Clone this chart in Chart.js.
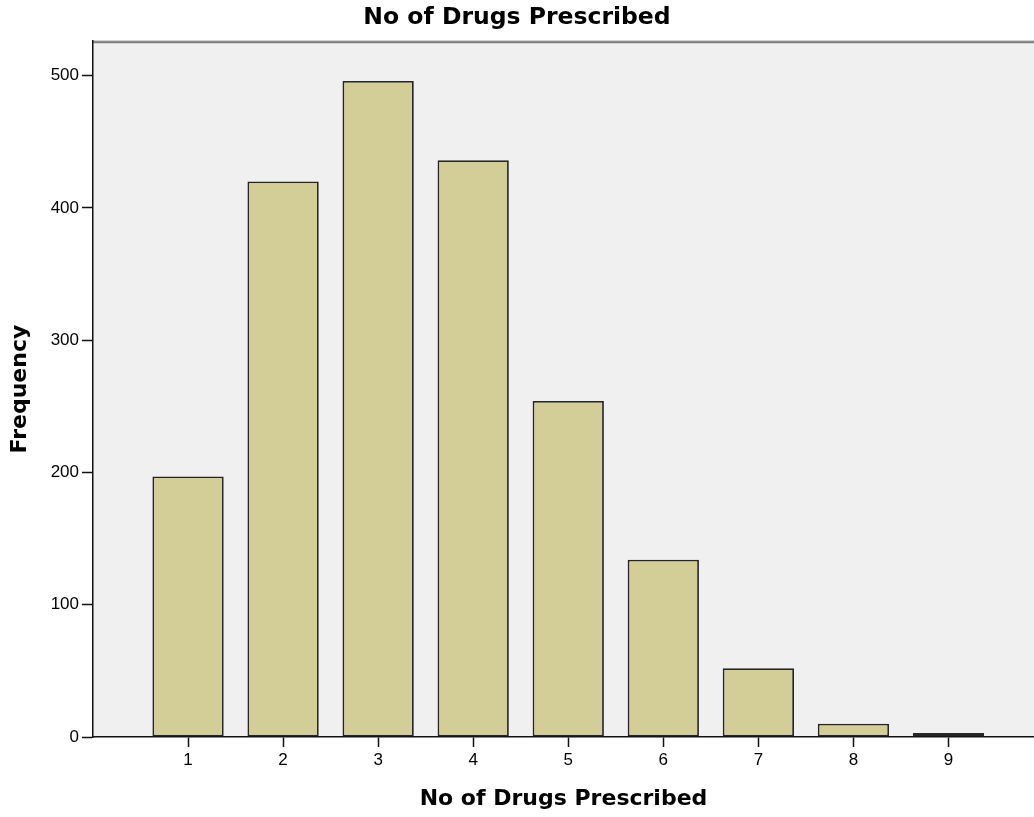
<!DOCTYPE html>
<html>
<head>
<meta charset="utf-8">
<title>No of Drugs Prescribed</title>
<script src="https://cdn.jsdelivr.net/npm/chart.js@4.4.1/dist/chart.umd.min.js"></script>
<style>
    html, body { margin: 0; padding: 0; background: #fff; overflow: hidden; }
    #wrap { width: 1034px; height: 817px; position: relative; }
</style>
</head>
<body>
<div id="wrap"><canvas id="drugs-chart"></canvas></div>
<script>
// ---- Data ---------------------------------------------------------------

const TITLE = 'No of Drugs Prescribed';
const X_TITLE = 'No of Drugs Prescribed';
const Y_TITLE = 'Frequency';

const drugCounts = [1, 2, 3, 4, 5, 6, 7, 8, 9];
const frequencies = [197, 420, 496, 436, 254, 134, 52, 10, 3];

const xTicks = [1, 2, 3, 4, 5, 6, 7, 8, 9];
const yTicks = [0, 100, 200, 300, 400, 500];

// ---- Styling ------------------------------------------------------------

const TITLE_FONT = 'DejaVu Sans';
const TICK_FONT = '"Liberation Sans", Arial, sans-serif';
const PLOT_BG = '#f0f0f0';
const BAR_FILL = '#d3ce97';
const BAR_EDGE = '#262626';

// Gray plot background and the double gray line along its top edge.
const plotFrame = {
    id: 'plotFrame',
    beforeDraw(chart) {
        const { ctx, chartArea: a } = chart;
        ctx.save();
        ctx.fillStyle = PLOT_BG;
        ctx.fillRect(a.left, a.top, a.right - a.left, a.bottom - a.top);
        ctx.fillStyle = '#c8c8c8';
        ctx.fillRect(a.left, a.top - 1, chart.width - a.left, 1);
        ctx.fillStyle = '#7a7a7a';
        ctx.fillRect(a.left, a.top, chart.width - a.left, 2);
        ctx.restore();
    },
};

// ---- Chart --------------------------------------------------------------

const ctx = document.getElementById('drugs-chart').getContext('2d');

new Chart(ctx, {
    type: 'bar',
    data: {
        datasets: [{
            label: Y_TITLE,
            data: frequencies.map((f, i) => ({ x: drugCounts[i], y: f })),
            backgroundColor: BAR_FILL,
            borderColor: BAR_EDGE,
            borderWidth: 1.8,
            borderSkipped: false,
            categoryPercentage: 1,
            barPercentage: 0.75,
        }],
    },
    options: {
        responsive: true,
        maintainAspectRatio: false,
        animation: false,
        layout: { padding: 0 },
        plugins: {
            legend: { display: false },
            tooltip: { enabled: false },
            title: {
                display: true,
                text: TITLE,
                color: '#000',
                font: { family: TITLE_FONT, size: 23.5, weight: 'bold', lineHeight: 1.2 },
                padding: { top: 4, bottom: 9 },
            },
        },
        scales: {
            x: {
                type: 'linear',
                min: 0,
                max: 9.9,
                offset: false,
                afterBuildTicks: (s) => { s.ticks = xTicks.map(v => ({ value: v })); },
                afterFit: (s) => { s.height = 80; },
                ticks: {
                    color: '#000',
                    font: { family: TICK_FONT, size: 17 },
                    padding: 3,
                    maxRotation: 0,
                },
                grid: {
                    offset: false,
                    drawOnChartArea: false,
                    tickLength: 10,
                    tickWidth: 1.5,
                    tickColor: '#111',
                },
                border: { color: '#111', width: 1.5 },
                title: {
                    display: true,
                    text: X_TITLE,
                    color: '#000',
                    font: { family: TITLE_FONT, size: 22, weight: 'bold', lineHeight: 1.2 },
                    padding: { top: 0, bottom: 5 },
                },
            },
            y: {
                min: 0,
                max: 526,
                afterBuildTicks: (s) => { s.ticks = yTicks.map(v => ({ value: v })); },
                afterFit: (s) => { s.width = 93; },
                ticks: {
                    color: '#000',
                    font: { family: TICK_FONT, size: 17 },
                    padding: 3,
                },
                grid: {
                    drawOnChartArea: false,
                    tickLength: 11,
                    tickWidth: 1.5,
                    tickColor: '#111',
                },
                border: { color: '#111', width: 1.5 },
                title: {
                    display: true,
                    text: Y_TITLE,
                    color: '#000',
                    font: { family: TITLE_FONT, size: 22, weight: 'bold', lineHeight: 1.2 },
                    padding: { top: 7, bottom: 0 },
                },
            },
        },
    },
    plugins: [plotFrame],
});
</script>
</body>
</html>
